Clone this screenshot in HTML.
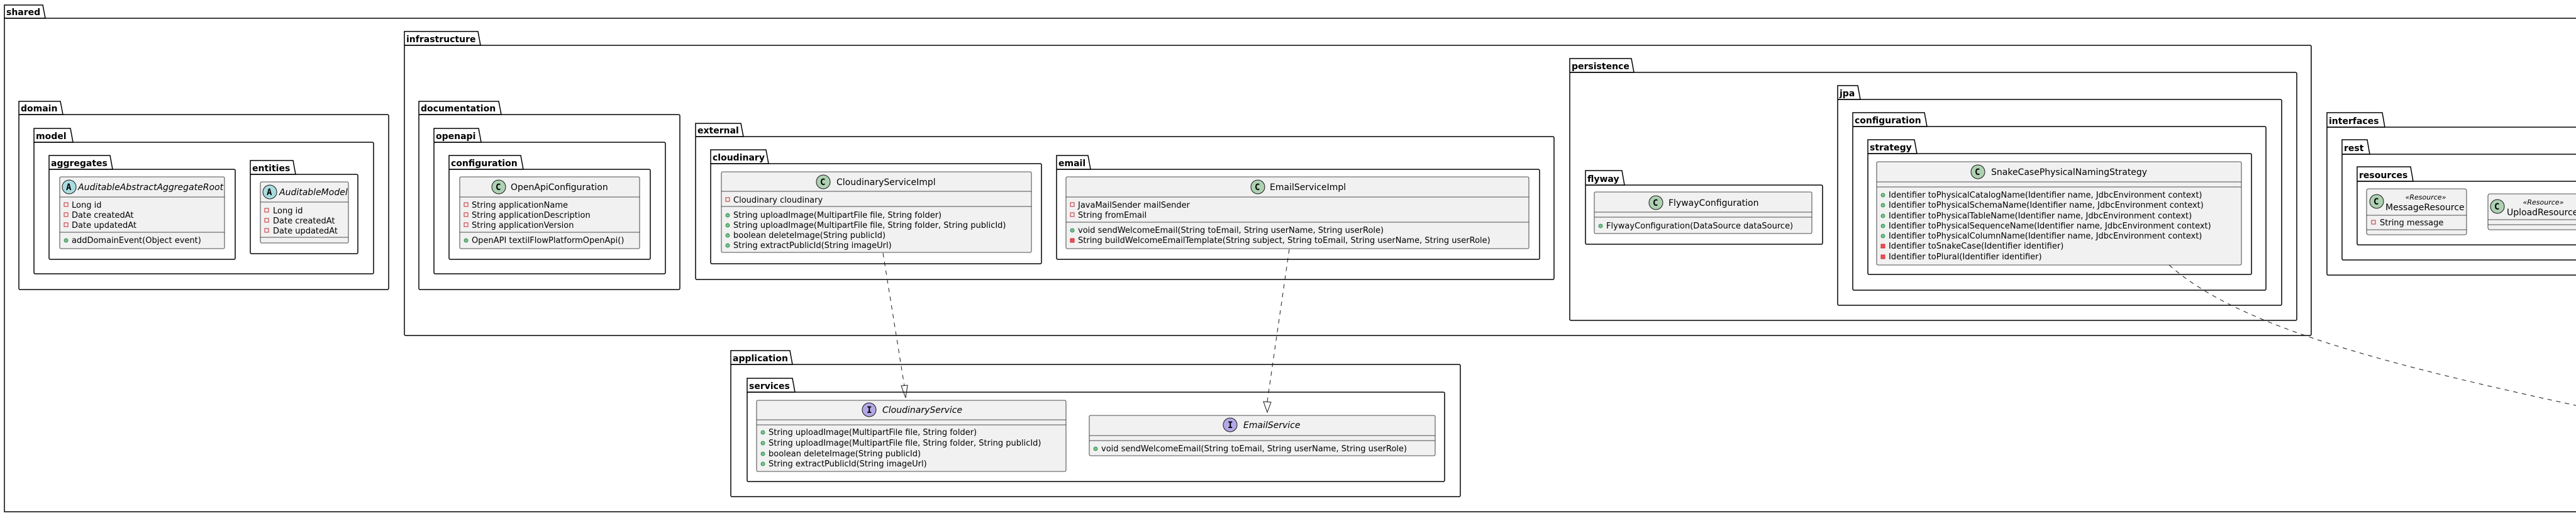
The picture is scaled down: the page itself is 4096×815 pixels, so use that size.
<!DOCTYPE html>
<html><head><meta charset="utf-8"><style>
html,body{margin:0;padding:0;background:#fff;width:4096px;height:815px;overflow:hidden}
svg{display:block}
.pk{fill:none;stroke:#000;stroke-width:1.5}
.pt{font:bold 14px "DejaVu Sans","Liberation Sans",sans-serif;fill:#000}
.cb{fill:#F1F1F1;stroke:#181818;stroke-width:0.8}
.sp{stroke:#181818;stroke-width:0.8}
.cn{font:14px "DejaVu Sans","Liberation Sans",sans-serif;fill:#000}
.it{font-style:italic}
.m{font:13px "DejaVu Sans","Liberation Sans",sans-serif;fill:#000}
.st{font:italic 11px "DejaVu Sans","Liberation Sans",sans-serif;fill:#000}
.ic{font:bold 14px "DejaVu Sans Mono","Liberation Mono",monospace;fill:#000}
.pub{fill:#84BE84;stroke:#038048;stroke-width:0.8}
.prf{fill:none;stroke:#C82930;stroke-width:1}
.prm{fill:#F24D5C;stroke:#C82930;stroke-width:1}
.ar{fill:none;stroke:#181818;stroke-width:1;stroke-dasharray:7,7}
</style></head><body>
<svg width="4096" height="815" xmlns="http://www.w3.org/2000/svg">
<!-- packages -->
<g>
<!-- shared -->
<polygon class="pk" points="7,29 7,8 68,8 72,29"/><rect class="pk" x="7" y="29" width="4100" height="784"/><text class="pt" x="10" y="24">shared</text>
<!-- domain -->
<polygon class="pk" points="30,182 30,161 96,161 100,182"/><rect class="pk" x="30" y="182" width="588" height="278" rx="2"/><text class="pt" x="33" y="177">domain</text>
<polygon class="pk" points="54,226 54,204 112,204 116,226"/><rect class="pk" x="54" y="226" width="540" height="209" rx="2"/><text class="pt" x="57" y="221">model</text>
<polygon class="pk" points="78,269 78,247 175,247 179,269"/><rect class="pk" x="78" y="269" width="296" height="143" rx="2"/><text class="pt" x="81" y="264">aggregates</text>
<polygon class="pk" points="398,277 398,255 466,255 470,277"/><rect class="pk" x="398" y="277" width="171" height="126" rx="2"/><text class="pt" x="401" y="272">entities</text>
<!-- infrastructure -->
<polygon class="pk" points="643,72 643,50 760,50 764,72"/><rect class="pk" x="643" y="72" width="3032" height="461" rx="2"/><text class="pt" x="646" y="67">infrastructure</text>
<polygon class="pk" points="666,182 666,161 793,161 797,182"/><rect class="pk" x="666" y="182" width="415" height="278" rx="2"/><text class="pt" x="669" y="177">documentation</text>
<polygon class="pk" points="690,226 690,204 761,204 765,226"/><rect class="pk" x="690" y="226" width="368" height="209" rx="2"/><text class="pt" x="693" y="221">openapi</text>
<polygon class="pk" points="714,269 714,247 828,247 832,269"/><rect class="pk" x="714" y="269" width="320" height="143" rx="2"/><text class="pt" x="717" y="264">configuration</text>
<polygon class="pk" points="1106,217 1106,196 1178,196 1182,217"/><rect class="pk" x="1106" y="217" width="1365" height="227" rx="2"/><text class="pt" x="1109" y="212">external</text>
<polygon class="pk" points="1130,260 1130,238 1218,238 1222,260"/><rect class="pk" x="1130" y="260" width="526" height="159" rx="2"/><text class="pt" x="1133" y="255">cloudinary</text>
<polygon class="pk" points="1680,269 1680,247 1730,247 1734,269"/><rect class="pk" x="1680" y="269" width="768" height="143" rx="2"/><text class="pt" x="1683" y="264">email</text>
<polygon class="pk" points="2496,115 2496,93 2594,93 2598,115"/><rect class="pk" x="2496" y="115" width="1156" height="394" rx="2"/><text class="pt" x="2499" y="110">persistence</text>
<polygon class="pk" points="2521,294 2521,271 2579,271 2583,294"/><rect class="pk" x="2521" y="294" width="377" height="94" rx="2"/><text class="pt" x="2524" y="289">flyway</text>
<polygon class="pk" points="2922,158 2922,136 2954,136 2958,158"/><rect class="pk" x="2922" y="158" width="706" height="327" rx="2"/><text class="pt" x="2925" y="153">jpa</text>
<polygon class="pk" points="2946,201 2946,179 3060,179 3064,201"/><rect class="pk" x="2946" y="201" width="657" height="260" rx="2"/><text class="pt" x="2949" y="196">configuration</text>
<polygon class="pk" points="2970,244 2970,222 3044,222 3048,244"/><rect class="pk" x="2970" y="244" width="610" height="192" rx="2"/><text class="pt" x="2973" y="239">strategy</text>
<!-- interfaces -->
<polygon class="pk" points="3700,202 3700,179 3788,179 3792,202"/><rect class="pk" x="3700" y="202" width="500" height="235" rx="2"/><text class="pt" x="3703" y="197">interfaces</text>
<polygon class="pk" points="3724,245 3724,222 3764,222 3768,245"/><rect class="pk" x="3724" y="245" width="500" height="168" rx="2"/><text class="pt" x="3727" y="240">rest</text>
<polygon class="pk" points="3748,288 3748,265 3833,265 3837,288"/><rect class="pk" x="3748" y="288" width="500" height="101" rx="2"/><text class="pt" x="3751" y="283">resources</text>
<!-- application -->
<polygon class="pk" points="1162,579 1162,557 1256,557 1260,579"/><rect class="pk" x="1162" y="579" width="1160" height="210" rx="2"/><text class="pt" x="1165" y="574">application</text>
<polygon class="pk" points="1188,623 1188,601 1260,601 1264,623"/><rect class="pk" x="1188" y="623" width="1109" height="142" rx="2"/><text class="pt" x="1191" y="618">services</text>
</g>

<!-- AuditableAbstractAggregateRoot -->
<rect class="cb" x="95" y="281" width="262" height="114" rx="2"/>
<line class="sp" x1="95" y1="313" x2="357" y2="313"/><line class="sp" x1="95" y1="369" x2="357" y2="369"/>
<circle cx="110" cy="297" r="11" fill="#A9DCDF" stroke="#181818" stroke-width="1"/><text class="ic" x="105" y="302">A</text>
<text class="cn it" x="124" y="302">AuditableAbstractAggregateRoot</text>
<rect class="prf" x="102" y="322" width="6" height="6"/><text class="m" x="114" y="330">Long id</text>
<rect class="prf" x="102" y="338" width="6" height="6"/><text class="m" x="114" y="346">Date createdAt</text>
<rect class="prf" x="102" y="354" width="6" height="6"/><text class="m" x="114" y="362">Date updatedAt</text>
<circle class="pub" cx="105" cy="382" r="3"/><text class="m" x="114" y="386">addDomainEvent(Object event)</text>

<!-- AuditableModel -->
<rect class="cb" x="414" y="289" width="140" height="97" rx="2"/>
<line class="sp" x1="414" y1="321" x2="554" y2="321"/><line class="sp" x1="414" y1="377" x2="554" y2="377"/>
<circle cx="429" cy="305" r="11" fill="#A9DCDF" stroke="#181818" stroke-width="1"/><text class="ic" x="424" y="310">A</text>
<text class="cn it" x="444" y="310">AuditableModel</text>
<rect class="prf" x="421" y="331" width="6" height="6"/><text class="m" x="434" y="339">Long id</text>
<rect class="prf" x="421" y="347" width="6" height="6"/><text class="m" x="434" y="355">Date createdAt</text>
<rect class="prf" x="421" y="363" width="6" height="6"/><text class="m" x="434" y="371">Date updatedAt</text>

<!-- OpenApiConfiguration -->
<rect class="cb" x="731" y="281" width="286" height="114" rx="2"/>
<line class="sp" x1="731" y1="313" x2="1017" y2="313"/><line class="sp" x1="731" y1="369" x2="1017" y2="369"/>
<circle cx="793" cy="297" r="11" fill="#ADD1B2" stroke="#181818" stroke-width="1"/><text class="ic" x="788" y="302">C</text>
<text class="cn" x="812" y="302">OpenApiConfiguration</text>
<rect class="prf" x="738" y="322" width="6" height="6"/><text class="m" x="750" y="330">String applicationName</text>
<rect class="prf" x="738" y="338" width="6" height="6"/><text class="m" x="750" y="346">String applicationDescription</text>
<rect class="prf" x="738" y="354" width="6" height="6"/><text class="m" x="750" y="362">String applicationVersion</text>
<circle class="pub" cx="741" cy="382" r="3"/><text class="m" x="750" y="386">OpenAPI textilFlowPlatformOpenApi()</text>

<!-- CloudinaryServiceImpl -->
<rect class="cb" x="1147" y="273" width="493" height="128" rx="2"/>
<line class="sp" x1="1147" y1="304" x2="1640" y2="304"/><line class="sp" x1="1147" y1="328" x2="1640" y2="328"/>
<circle cx="1309" cy="289" r="11" fill="#ADD1B2" stroke="#181818" stroke-width="1"/><text class="ic" x="1304" y="294">C</text>
<text class="cn" x="1330" y="294">CloudinaryServiceImpl</text>
<rect class="prf" x="1154" y="314" width="6" height="6"/><text class="m" x="1166" y="322">Cloudinary cloudinary</text>
<circle class="pub" cx="1157" cy="342" r="3"/><text class="m" x="1166" y="346">String uploadImage(MultipartFile file, String folder)</text>
<circle class="pub" cx="1157" cy="358" r="3"/><text class="m" x="1166" y="362">String uploadImage(MultipartFile file, String folder, String publicId)</text>
<circle class="pub" cx="1157" cy="374" r="3"/><text class="m" x="1166" y="378">boolean deleteImage(String publicId)</text>
<circle class="pub" cx="1157" cy="390" r="3"/><text class="m" x="1166" y="394">String extractPublicId(String imageUrl)</text>

<!-- EmailServiceImpl -->
<rect class="cb" x="1695" y="281" width="736" height="114" rx="2"/>
<line class="sp" x1="1695" y1="313" x2="2431" y2="313"/><line class="sp" x1="1695" y1="353" x2="2431" y2="353"/>
<circle cx="2000" cy="297" r="11" fill="#ADD1B2" stroke="#181818" stroke-width="1"/><text class="ic" x="1995" y="302">C</text>
<text class="cn" x="2019" y="302">EmailServiceImpl</text>
<rect class="prf" x="1702" y="322" width="6" height="6"/><text class="m" x="1714" y="330">JavaMailSender mailSender</text>
<rect class="prf" x="1702" y="338" width="6" height="6"/><text class="m" x="1714" y="346">String fromEmail</text>
<circle class="pub" cx="1705" cy="366" r="3"/><text class="m" x="1714" y="370">void sendWelcomeEmail(String toEmail, String userName, String userRole)</text>
<rect class="prm" x="1702" y="379" width="6" height="6"/><text class="m" x="1714" y="386">String buildWelcomeEmailTemplate(String subject, String toEmail, String userName, String userRole)</text>

<!-- FlywayConfiguration -->
<rect class="cb" x="2535" y="305" width="346" height="66" rx="2"/>
<line class="sp" x1="2535" y1="337" x2="2881" y2="337"/><line class="sp" x1="2535" y1="345" x2="2881" y2="345"/>
<circle cx="2633" cy="322" r="11" fill="#ADD1B2" stroke="#181818" stroke-width="1"/><text class="ic" x="2628" y="327">C</text>
<text class="cn" x="2653" y="327">FlywayConfiguration</text>
<circle class="pub" cx="2545" cy="359" r="3"/><text class="m" x="2554" y="363">FlywayConfiguration(DataSource dataSource)</text>

<!-- SnakeCasePhysicalNamingStrategy -->
<rect class="cb" x="2984" y="257" width="580" height="164" rx="2"/>
<line class="sp" x1="2984" y1="289" x2="3564" y2="289"/><line class="sp" x1="2984" y1="297" x2="3564" y2="297"/>
<circle cx="3145" cy="273" r="11" fill="#ADD1B2" stroke="#181818" stroke-width="1"/><text class="ic" x="3140" y="278">C</text>
<text class="cn" x="3166" y="278">SnakeCasePhysicalNamingStrategy</text>
<circle class="pub" cx="2994" cy="310" r="3"/><text class="m" x="3003" y="314">Identifier toPhysicalCatalogName(Identifier name, JdbcEnvironment context)</text>
<circle class="pub" cx="2994" cy="326" r="3"/><text class="m" x="3003" y="330">Identifier toPhysicalSchemaName(Identifier name, JdbcEnvironment context)</text>
<circle class="pub" cx="2994" cy="343" r="3"/><text class="m" x="3003" y="347">Identifier toPhysicalTableName(Identifier name, JdbcEnvironment context)</text>
<circle class="pub" cx="2994" cy="359" r="3"/><text class="m" x="3003" y="363">Identifier toPhysicalSequenceName(Identifier name, JdbcEnvironment context)</text>
<circle class="pub" cx="2994" cy="375" r="3"/><text class="m" x="3003" y="379">Identifier toPhysicalColumnName(Identifier name, JdbcEnvironment context)</text>
<rect class="prm" x="2991" y="388" width="6" height="6"/><text class="m" x="3003" y="395">Identifier toSnakeCase(Identifier identifier)</text>
<rect class="prm" x="2991" y="405" width="6" height="6"/><text class="m" x="3003" y="412">Identifier toPlural(Identifier identifier)</text>

<!-- MessageResource -->
<rect class="cb" x="3763" y="300" width="159" height="73" rx="3"/>
<line class="sp" x1="3763" y1="342" x2="3922" y2="342"/><line class="sp" x1="3763" y1="365" x2="3922" y2="365"/>
<circle cx="3779" cy="320" r="11" fill="#ADD1B2" stroke="#181818" stroke-width="1"/><text class="ic" x="3774" y="325">C</text>
<text class="st" x="3857" y="317" text-anchor="middle">«Resource»</text>
<text class="cn" x="3793" y="334">MessageResource</text>
<rect class="prf" x="3771" y="350" width="6" height="6"/><text class="m" x="3784" y="358">String message</text>

<!-- UploadResource -->
<rect class="cb" x="3956" y="308" width="200" height="57" rx="3"/>
<line class="sp" x1="3956" y1="349" x2="4156" y2="349"/><line class="sp" x1="3956" y1="357" x2="4156" y2="357"/>
<circle cx="3971" cy="328" r="11" fill="#ADD1B2" stroke="#181818" stroke-width="1"/><text class="ic" x="3966" y="333">C</text>
<text class="st" x="4044" y="325" text-anchor="middle">«Resource»</text>
<text class="cn" x="3986" y="342">UploadResource</text>

<!-- CloudinaryService -->
<rect class="cb" x="1203" y="636" width="492" height="113" rx="2"/>
<line class="sp" x1="1203" y1="667" x2="1695" y2="667"/><line class="sp" x1="1203" y1="675" x2="1695" y2="675"/>
<circle cx="1382" cy="651" r="11" fill="#B4A7E5" stroke="#181818" stroke-width="1"/><text class="ic" x="1378" y="656">I</text>
<text class="cn it" x="1403" y="656">CloudinaryService</text>
<circle class="pub" cx="1213" cy="687" r="3"/><text class="m" x="1222" y="691">String uploadImage(MultipartFile file, String folder)</text>
<circle class="pub" cx="1213" cy="704" r="3"/><text class="m" x="1222" y="708">String uploadImage(MultipartFile file, String folder, String publicId)</text>
<circle class="pub" cx="1213" cy="721" r="3"/><text class="m" x="1222" y="725">boolean deleteImage(String publicId)</text>
<circle class="pub" cx="1213" cy="737" r="3"/><text class="m" x="1222" y="741">String extractPublicId(String imageUrl)</text>

<!-- EmailService -->
<rect class="cb" x="1732" y="660" width="550" height="64" rx="2"/>
<line class="sp" x1="1732" y1="692" x2="2282" y2="692"/><line class="sp" x1="1732" y1="700" x2="2282" y2="700"/>
<circle cx="1956" cy="675" r="11" fill="#B4A7E5" stroke="#181818" stroke-width="1"/><text class="ic" x="1952" y="680">I</text>
<text class="cn it" x="1977" y="680">EmailService</text>
<circle class="pub" cx="1742" cy="713" r="3"/><text class="m" x="1751" y="717">void sendWelcomeEmail(String toEmail, String userName, String userRole)</text>

<!-- connectors -->
<path class="ar" d="M1404,402 L1438,613"/>
<polygon points="1433,613 1443,612 1440,632" fill="none" stroke="#181818" stroke-width="1"/>
<path class="ar" d="M2050,396 L2015,638"/>
<polygon points="2009,638 2021,639 2015,655" fill="none" stroke="#181818" stroke-width="1"/>
<path class="ar" d="M3449,421 C3560,520 3800,580 4100,645"/>
</svg>
</body></html>
